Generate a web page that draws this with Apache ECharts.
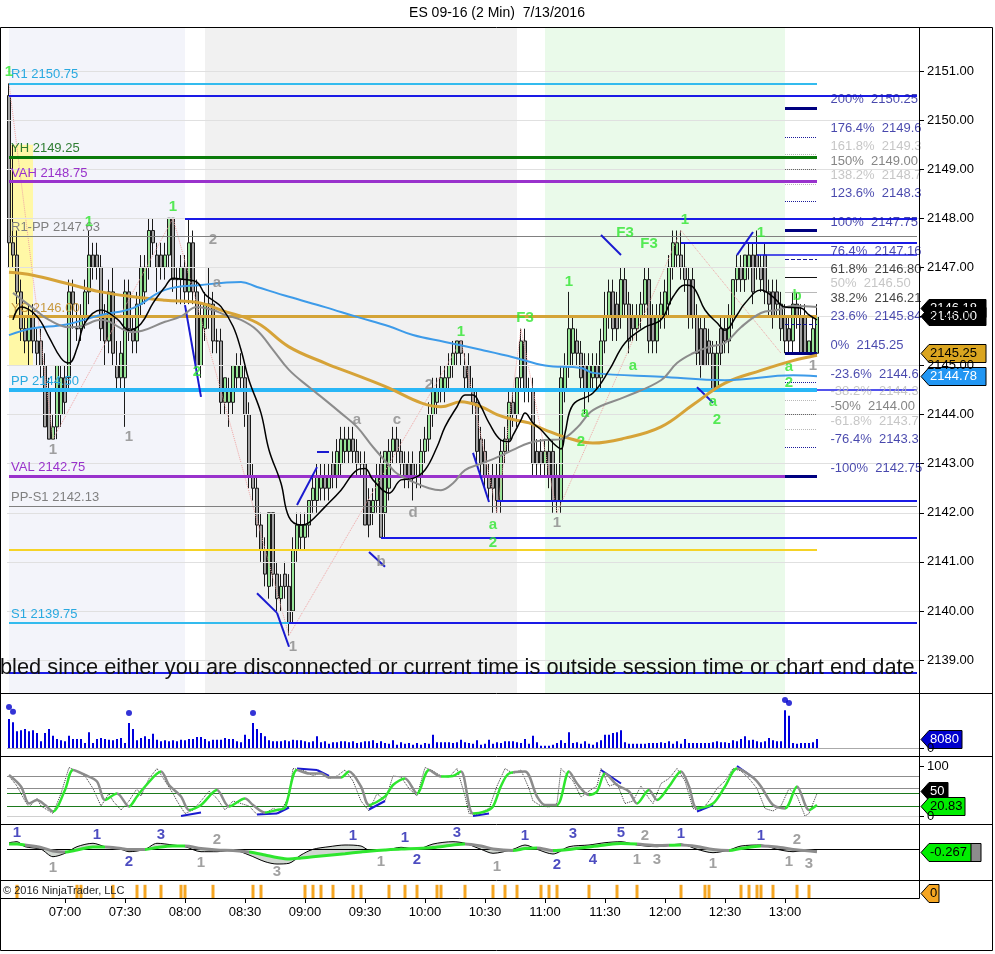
<!DOCTYPE html>
<html><head><meta charset="utf-8"><title>ES 09-16 (2 Min)</title>
<script src="https://cdn.jsdelivr.net/npm/echarts@6.0.0/dist/echarts.min.js"></script>
<style>html,body{margin:0;padding:0;background:#fff;overflow:hidden}#chart{width:995px;height:954px}</style>
</head><body><div id="chart"></div>
<script>
// ================= DATA =================
const chartTitle = 'ES 09-16 (2 Min)  7/13/2016';
const message = 'bled since either you are disconnected or current time is outside session time or chart end date';
const copyright = '\u00A9 2016 NinjaTrader, LLC';
const timeLabels = ['07:00','07:30','08:00','08:30','09:00','09:30','10:00','10:30','11:00','11:30','12:00','12:30','13:00'];
const priceTicks = [2139,2140,2141,2142,2143,2144,2145,2146,2147,2148,2149,2150,2151];

// 2-minute bars, bar 1 = 06:32
const opens = [
2150.5,2147.5,2147.25,2146.5,2145.75,2145.5,2146,2145.5,2145.5,2145,
2144.5,2143.5,2143.75,2144,2144.75,2144.75,2146.5,2145.75,2145.75,2146,
2146.5,2147.25,2147.25,2147,2146,2145.5,2146.5,2145,2144.75,2144.75,
2146.5,2145.75,2145.5,2146.25,2146.5,2147,2147.75,2147.25,2147.25,2147,
2147.25,2148,2146.75,2146.75,2147,2146.5,2147.5,2146.5,2145,2145.75,
2146.25,2146.25,2145.5,2145.5,2144.25,2144.25,2144.25,2144.75,2144.75,2144.75,
2144,2142.75,2142.5,2141.75,2141.25,2140.5,2142,2140.75,2140.25,2140.75,
2140.5,2140,2141.25,2141.5,2141.5,2141.75,2142.25,2142.25,2142.5,2142.75,
2142.5,2143,2142.75,2143,2143.25,2143.25,2143.5,2143.25,2143,2143,
2142.25,2142,2142.25,2143,2142,2142.5,2143.25,2143.5,2143.25,2143,
2143,2143,2142.75,2142.75,2143.25,2143.5,2144,2144.25,2144.5,2144.5,
2144.75,2145,2145.25,2145.5,2145,2145,2144.5,2144.25,2143.5,2143.25,
2142.75,2142.75,2142.75,2142.25,2143.25,2143.5,2144.25,2144,2144.75,2145.5,
2144.5,2144.5,2143.25,2143.25,2143,2143.25,2143.25,2142.75,2142.25,2144.5,
2145,2145.25,2145.5,2145.25,2145,2144.5,2144.75,2145,2144.75,2145.5,
2146,2146.5,2146.25,2146,2146.75,2146.25,2146,2145.75,2146,2146.25,
2146.75,2146,2145.5,2146,2146,2146.25,2147,2147.25,2147.25,2147,
2146.75,2146.75,2146,2145.75,2145.75,2145.5,2145.25,2144.5,2145.75,2145.75,
2145.5,2146,2146.75,2147,2146.75,2147,2147.25,2147.25,2147,2147.25,
2146.5,2146.5,2146.5,2146.25,2146,2145.75,2145.5,2146.25,2146,2146,
2145.25,2145.25,2145.25];
const highs = [
2150.75,2149.5,2147.75,2146.75,2146,2146.25,2146.25,2145.75,2145.75,2145.25,
2144.75,2144,2145,2145,2145,2146.75,2146.75,2146.25,2146.25,2146.75,
2147.75,2147.5,2147.5,2147.25,2146.25,2146.75,2147,2145.5,2145.5,2146.75,
2146.75,2146,2146.5,2147.25,2147.25,2148,2148,2147.5,2147.5,2147.5,
2148,2148,2147,2147.25,2147.25,2148,2147.75,2146.75,2146.25,2146.5,
2147,2146.5,2145.75,2145.75,2144.75,2144.75,2145,2145.25,2145.25,2145,
2144.25,2143,2142.75,2142,2141.5,2142,2142,2141,2140.75,2141,
2140.75,2141.5,2142,2142,2142,2142.25,2142.75,2143,2143,2143,
2143,2143.25,2143.5,2143.75,2143.75,2143.75,2143.75,2143.5,2143.25,2143.25,
2142.5,2142.5,2143,2143.25,2143.25,2143.5,2143.75,2143.75,2143.5,2143.25,
2143.25,2143.25,2143,2143.5,2143.75,2144.25,2144.75,2144.75,2145,2145,
2145.25,2145.5,2145.5,2145.5,2145.25,2145.25,2144.75,2144.5,2143.75,2143.5,
2143,2143,2143,2143.5,2143.75,2144.5,2144.5,2144.75,2145.75,2145.75,
2144.75,2144.75,2143.5,2143.5,2143.5,2143.5,2143.5,2143,2145,2145.25,
2146.5,2146,2145.75,2145.5,2145.25,2145.25,2145.25,2145.25,2145.75,2146.5,
2146.75,2146.75,2146.5,2147,2147,2146.5,2146.25,2146.25,2146.5,2147,
2147,2146.25,2146.25,2146.5,2146.75,2147.25,2147.75,2147.75,2147.75,2147.5,
2147,2147,2146.25,2146,2146,2145.75,2145.5,2145.5,2146,2146,
2146.25,2146.75,2147.25,2147.25,2147.25,2147.5,2147.5,2147.75,2147.25,2147.5,
2146.75,2146.75,2146.75,2146.5,2146.25,2146,2146.5,2146.5,2146.25,2146.25,
2145.5,2146,2146.25];
const lows = [
2147,2147,2146.25,2145.5,2145.25,2145,2145.25,2145,2144.75,2143.75,
2143.5,2143.5,2143.5,2143.75,2144,2144.5,2145.75,2145.5,2145.5,2145.75,
2146.25,2146.75,2146.75,2145.5,2145,2145.25,2145,2144.5,2144.5,2143.75,
2145.5,2145.25,2145.25,2146,2146.25,2146.75,2147.25,2146.5,2146.75,2146.75,
2147,2146.5,2146.25,2146.25,2146.25,2146.25,2146.25,2145,2144.75,2145.5,
2145.75,2145.25,2145.25,2144,2144,2143.75,2144,2144.5,2144.5,2143.75,
2142.5,2142.25,2141.5,2141,2140.5,2140.25,2140.5,2140,2140,2140.25,
2139.5,2139.75,2141,2141.25,2141.25,2141.5,2142,2142,2142.25,2142.25,
2142.25,2142.5,2142.5,2142.75,2143,2143,2143,2142.75,2142.75,2141.75,
2141.5,2141.75,2142,2141.5,2141.5,2142.25,2143,2143,2142.75,2142.5,
2142.5,2142.25,2142.5,2142.5,2143,2143.25,2143.75,2144,2144.25,2144.25,
2144.5,2144.75,2145,2145,2144.5,2144.5,2144,2143,2142.75,2142.5,
2142.25,2142,2142,2142,2143,2143.25,2143.75,2143.75,2144.5,2144.25,
2144.25,2142.75,2142.75,2142.75,2142.75,2142.5,2142,2142,2142,2144.25,
2144.75,2145,2145,2144.5,2144,2144.25,2144.5,2144.5,2144.5,2145.25,
2145.75,2145.5,2145.5,2145.75,2146,2145.25,2145.5,2145.5,2145.75,2146,
2145.25,2145.25,2145.25,2145.75,2145.75,2146,2146.75,2147,2146.75,2146.5,
2145.75,2145.75,2145,2144.75,2145,2145,2144.5,2144.5,2145,2145.25,
2145.25,2145.75,2146.5,2146.5,2146.5,2146.75,2146.25,2146.75,2146.5,2146.25,
2146,2145.75,2146,2145.5,2145.25,2145.25,2145.25,2145.75,2145.25,2145.25,
2145.25,2145.25,2145.25];
const closes = [
2147.5,2147.25,2146.5,2145.75,2145.5,2146,2145.5,2145.25,2145,2143.75,
2143.5,2143.75,2145,2144.75,2144.25,2146.5,2146.25,2145.75,2146,2146.5,
2147.25,2147,2147,2145.75,2145.5,2146.5,2145.25,2144.75,2145.25,2146.5,
2145.75,2145.5,2146.25,2147,2147,2147.75,2147.5,2147,2147,2147.25,
2148,2146.75,2146.75,2147,2146.5,2147.5,2146.5,2145,2146,2146.25,
2146.25,2145.5,2145.5,2144.25,2144.75,2144.5,2145,2145,2145,2144,
2142.75,2142.5,2141.75,2141.25,2140.75,2142,2140.75,2140.25,2140.5,2140.5,
2139.75,2141.25,2141.75,2141.75,2141.75,2142.25,2142.5,2142.75,2142.75,2142.5,
2142.75,2142.75,2143.25,2143.5,2143.5,2143.5,2143.25,2143,2143,2141.75,
2141.75,2142.25,2142.75,2141.5,2143.25,2143.25,2143.5,2143.25,2143,2142.75,
2142.75,2142.75,2142.75,2143.25,2143.5,2144,2144.5,2144.5,2144.75,2144.75,
2145,2145.25,2145.5,2145.25,2144.75,2144.5,2144.25,2143.25,2143,2142.75,
2142.5,2142.5,2142.25,2143.25,2143.5,2144.25,2144,2144.75,2145.5,2144.5,
2144.5,2143,2143,2143,2143.25,2142.75,2142.25,2142.25,2144.75,2145,
2145.75,2145.75,2145.25,2144.75,2144.5,2145,2145,2144.75,2145.5,2146,
2146.5,2145.75,2145.75,2146.75,2146.25,2145.5,2145.75,2146,2146.25,2146.75,
2145.5,2145.5,2146,2146.25,2146.5,2147,2147.5,2147.5,2147,2146.75,
2146,2146,2145.25,2145,2145,2145.25,2144.5,2145.25,2145.25,2145.5,
2146,2146.75,2147,2146.75,2147.25,2147.25,2146.5,2147,2146.75,2146.5,
2146.25,2146,2146.25,2145.75,2145.5,2145.5,2146.25,2146,2145.25,2145.25,
2145.5,2145.75,2146];

const volumes = [
26100,23100,15000,15900,17100,15000,15900,13500,6000,13500,
17100,11100,8100,6900,6000,11100,8100,8100,8100,4500,
14100,4500,8100,9000,8100,7500,6900,8100,9000,4500,
22500,17100,6900,9000,10500,8100,12900,7500,6000,6900,
6000,6900,6000,7500,6900,8100,8100,9900,9900,8100,
6000,7500,7500,7500,9000,8100,8100,6000,5100,12000,
8100,22500,17100,13500,10500,6900,6000,6000,6000,6900,
6000,7500,6900,6900,6000,5100,6000,10500,5100,6000,
3900,5100,5100,6000,6000,5100,6000,4500,5100,6000,
6000,6900,4500,6000,4500,3900,6900,3000,5100,3900,
4500,3000,4500,3000,4500,3900,12000,5100,5100,5100,
5100,4500,5100,7500,5100,4500,3900,6900,3000,3900,
7500,3900,5100,4500,6000,6000,6000,5100,4500,8100,
3900,11100,5100,2100,2100,2100,3000,4500,6900,4500,
14100,4500,5100,3900,6000,3900,3000,5100,6900,12000,
12000,13500,14100,15900,5100,3900,3900,3900,3900,3900,
4500,4500,4500,5100,4500,6000,3900,6000,3900,8100,
4500,4500,4500,4500,4500,4500,5100,6000,5100,5100,
4500,6900,6000,8100,10500,6900,7500,6000,5100,6000,
9000,6900,6000,6000,33900,29100,4500,3900,4500,4500,
4500,5100,8080];
const volDots = [[1,36900],[2,32700],[31,31500],[62,31500],[195,43200],[196,40500]];

// moving averages: [bar, price]
const blueMA = [[1,2145.62],[7,2145.76],[15,2145.83],[24,2146.03],[32,2146.17],[40,2146.54],[49,2146.64],[59,2146.7],[63,2146.6],[71,2146.4],[80,2146.19],[88,2145.99],[96,2145.8],[102,2145.62],[110,2145.48],[119,2145.32],[127,2145.17],[135,2145.0],[144,2144.95],[147,2144.85],[164,2144.77],[180,2144.7],[197,2144.8],[203,2144.78]];
const goldMA = [[1,2146.9],[7,2146.84],[15,2146.68],[24,2146.5],[32,2146.4],[40,2146.33],[49,2146.27],[54,2146.13],[63,2145.87],[71,2145.38],[80,2145.05],[88,2144.8],[96,2144.54],[104,2144.24],[109,2144.16],[114,2144.26],[119,2144.16],[123,2144.0],[127,2143.9],[131,2143.83],[135,2143.69],[140,2143.54],[147,2143.42],[155,2143.52],[164,2143.75],[172,2144.2],[180,2144.64],[189,2144.9],[197,2145.1],[203,2145.21]];
const blackMA = [[2,2145.93],[4,2146.19],[8,2146.0],[11,2145.58],[14,2145.15],[16,2145.05],[18,2145.35],[20,2145.87],[24,2146.13],[28,2145.95],[31,2145.72],[34,2145.85],[37,2146.27],[40,2146.6],[42,2146.78],[45,2146.75],[48,2146.7],[50,2146.45],[52,2146.33],[54,2146.2],[57,2145.8],[59,2145.32],[61,2144.7],[64,2144.03],[66,2143.28],[69,2142.6],[71,2141.91],[74,2141.75],[76,2141.8],[80,2142.12],[84,2142.46],[88,2142.87],[90,2142.9],[92,2142.67],[96,2142.4],[99,2142.67],[102,2142.7],[105,2142.87],[108,2143.34],[110,2143.75],[113,2144.16],[115,2144.4],[117,2144.4],[119,2144.16],[121,2143.83],[124,2143.48],[126,2143.45],[127,2143.58],[129,2143.89],[130,2144.03],[132,2143.83],[134,2143.69],[137,2143.42],[139,2143.3],[140,2143.62],[142,2144.2],[147,2144.44],[151,2144.9],[155,2145.46],[160,2145.78],[164,2145.93],[167,2146.4],[170,2146.64],[172,2146.6],[175,2146.13],[178,2145.87],[180,2145.72],[183,2146.03],[185,2146.27],[189,2146.54],[192,2146.4],[195,2146.19],[199,2146.17],[201,2146.03],[203,2145.93]];
const medMA = [[2,2146.48],[7,2146.17],[11,2145.93],[16,2145.78],[19,2145.8],[24,2145.93],[32,2145.68],[40,2145.89],[44,2146.0],[48,2146.19],[52,2146.13],[55,2146.03],[59,2145.93],[63,2145.72],[67,2145.32],[71,2144.91],[76,2144.56],[80,2144.3],[84,2144.03],[88,2143.75],[92,2143.34],[96,2142.97],[98,2142.8],[102,2142.63],[106,2142.5],[109,2142.46],[112,2142.6],[115,2142.87],[119,2143.0],[123,2143.13],[127,2143.28],[131,2143.42],[135,2143.48],[139,2143.5],[143,2143.73],[147,2144.09],[155,2144.36],[164,2144.7],[168,2145.05],[172,2145.25],[176,2145.38],[180,2145.46],[184,2145.78],[189,2146.07],[193,2146.13],[197,2146.21],[203,2146.19]];
const medGreen = [[19,26],[33,50],[109,198]];
const zigzag = [[1,2150.75],[12,2143.5],[42,2148.0],[71,2139.5],[114,2145.5],[123,2142.0],[129,2145.75],[138,2142.0],[169,2147.75],[194,2145.25]];

// horizontal levels: price, text, line colour, width, from bar, to bar, label colour
const levels = [
 [2150.75,'R1 2150.75','#33bbee',2,1,203,'#29a9e0'],
 [2150.5,'','#1a1ae6',2,1,228,null],
 [2149.25,'YH 2149.25','#0a7a0a',3,1,203,'#2e7d32'],
 [2148.75,'VAH 2148.75','#9932cc',3,1,203,'#9932cc'],
 [2148.0,'','#1a1ae6',2,45,228,null],
 [2147.63,'R1-PP 2147.63','#808080',1,1,228,'#808080'],
 [2147.5,'','#1a1ae6',2,169,228,null],
 [2147.25,'','#1a1ae6',1.5,188,228,null],
 [2146.0,'YC 2146.00','#d4a437',3,1,203,'#c89a40'],
 [2144.5,'PP 2144.50','#29b6f6',4,1,203,'#29a9e0'],
 [2144.5,'','#1a1ae6',1.5,203,228,null],
 [2142.75,'VAL 2142.75','#9932cc',3,1,203,'#9932cc'],
 [2142.25,'','#1a1ae6',2,123,228,null],
 [2142.13,'PP-S1 2142.13','#808080',1,1,228,'#808080'],
 [2141.5,'','#1a1ae6',2,94,228,null],
 [2141.25,'','#f5d327',2,1,203,null],
 [2139.75,'S1 2139.75','#33bbee',2,1,71,'#29a9e0'],
 [2139.75,'','#1a1ae6',2,71,228,null],
 [2138.75,'','#1a1ae6',2,1,228,null]
];
// fibonacci levels: text, price, colour, marker style
const fibs = [
 ['200%  2150.25',2150.25,'#1a1a99','thick'],
 ['176.4%  2149.6',2149.66,'#1a1a99','dot'],
 ['161.8%  2149.3',2149.3,'#b8b8b8','dot'],
 ['150%  2149.00',2149.0,'#666666','dot'],
 ['138.2%  2148.7',2148.7,'#b8b8b8','dot'],
 ['123.6%  2148.3',2148.34,'#1a1a99','dot'],
 ['100%  2147.75',2147.75,'#1a1a99','thick'],
 ['76.4%  2147.16',2147.16,'#1a1a99','dash'],
 ['61.8%  2146.80',2146.8,'#111111','solid'],
 ['50%  2146.50',2146.5,'#b8b8b8','solid'],
 ['38.2%  2146.21',2146.21,'#111111','none'],
 ['23.6%  2145.84',2145.84,'#1a1a99','dash'],
 ['0%  2145.25',2145.25,'#1a1a99','thick'],
 ['-23.6%  2144.6',2144.66,'#1a1a99','dot'],
 ['-38.2%  2144.3',2144.3,'#b8b8b8','dot'],
 ['-50%  2144.00',2144.0,'#666666','dot'],
 ['-61.8%  2143.7',2143.7,'#b8b8b8','dot'],
 ['-76.4%  2143.3',2143.34,'#1a1a99','dot'],
 ['-100%  2142.75',2142.75,'#1a1a99','thick']
];
const shades = [[1,45,'#f3f4fa'],[50,128,'#f1f1f1'],[135,195,'#eafaea']];
const trendLines = [[[45,2146.23],[49,2144.36]],[[63,2140.36],[68,2139.96]],[[68,2139.96],[71,2139.27]],[[73,2142.16],[78,2142.93]],[[78,2143.24],[81,2143.24]],[[91,2141.2],[95,2140.9]],[[117,2143.22],[121,2142.22]],[[149,2147.66],[154,2147.25]],[[173,2144.56],[177,2144.24]],[[183,2147.25],[187,2147.72]]];
const notes = [[1,2150.98,'1','g'],[21,2147.92,'1','g'],[12,2143.28,'1','k'],[31,2143.54,'1','k'],[42,2148.23,'1','g'],[52,2147.56,'2','k'],[53,2146.68,'a','k'],[48,2144.87,'2','g'],[88,2143.89,'a','k'],[98,2143.89,'c','k'],[102,2142.0,'d','k'],[94,2141.0,'b','k'],[72,2139.27,'1','k'],[106,2144.6,'2','k'],[114,2145.68,'1','g'],[130,2145.97,'F3','g'],[122,2141.75,'a','g'],[122,2141.38,'2','g'],[138,2141.79,'1','k'],[141,2146.7,'1','g'],[144,2143.44,'2','g'],[145,2144.03,'a','g'],[157,2145.0,'a','g'],[155,2147.7,'F3','g'],[161,2147.48,'F3','g'],[170,2147.96,'1','g'],[177,2144.25,'a','g'],[178,2143.9,'2','g'],[189,2147.7,'1','g'],[198,2146.42,'b','g'],[196,2144.97,'a','g'],[196,2144.64,'2','g'],[202,2145.0,'1','k']];

// stochastics
const stochSlow = [[1,82],[4,59],[6,25],[8,32],[10,22],[12,9],[15,52],[17,92],[20,82],[23,69],[25,32],[28,45],[31,19],[33,39],[35,59],[39,89],[41,62],[44,39],[46,12],[49,22],[53,52],[56,19],[60,35],[62,22],[65,7],[68,12],[70,17],[73,92],[76,85],[79,85],[81,77],[84,77],[86,89],[89,59],[91,22],[95,39],[97,62],[100,75],[103,45],[106,92],[109,79],[112,80],[114,89],[117,5],[120,9],[122,19],[124,60],[126,85],[130,89],[133,39],[135,22],[138,22],[141,89],[143,65],[146,42],[148,49],[150,85],[153,62],[156,49],[158,25],[161,52],[163,32],[166,59],[169,89],[171,59],[173,15],[177,25],[180,59],[183,95],[187,77],[189,59],[192,22],[195,15],[198,59],[201,12],[203,22]];
const stochFast = [[1,80],[3,60],[5,30],[6,18],[8,35],[9,20],[11,10],[12,5],[14,45],[16,97],[18,90],[20,80],[22,55],[24,20],[26,45],[27,30],[29,12],[31,30],[33,55],[34,40],[36,75],[38,95],[40,70],[42,45],[43,30],[45,5],[47,12],[49,30],[51,50],[53,35],[55,12],[57,30],[59,25],[61,20],[63,3],[65,5],[67,15],[69,10],[71,40],[72,95],[75,90],[77,80],[79,88],[81,75],[83,80],[85,92],[87,70],[89,30],[91,10],[93,45],[95,30],[97,80],[99,78],[101,55],[103,40],[105,97],[107,90],[109,80],[111,78],[113,95],[115,40],[116,5],[118,3],[121,15],[123,60],[125,95],[127,85],[129,92],[131,55],[132,30],[134,20],[136,18],[138,25],[139,95],[142,70],[144,38],[146,50],[148,60],[149,95],[151,60],[153,65],[155,25],[157,30],[159,60],[161,35],[162,25],[164,65],[166,75],[168,95],[170,70],[172,15],[174,10],[176,30],[178,55],[180,70],[182,95],[184,90],[186,75],[188,55],[190,15],[192,10],[194,20],[196,55],[198,40],[200,0],[201,5],[203,45]];
const stochGreen = [[12,17],[25,28],[31,39],[46,53],[56,60],[65,73],[84,86],[91,100],[103,106],[109,114],[117,127],[138,141],[146,150],[158,161],[163,169],[173,183],[195,198],[201,203]];
const stochLevels = [[80,'#8c8c8c'],[55,'#8c8c8c'],[45,'#1d7a1d'],[20,'#1d7a1d'],[0,'#d0d0d0']];
const stochLines = [[[44,0],[49,7]],[[63,3],[68,5]],[[68,5],[71,17]],[[73,95],[78,92]],[[78,92],[81,80]],[[91,13],[95,30]],[[117,0],[121,5]],[[149,92],[154,65]],[[173,9],[177,22]],[[183,100],[187,77]]];

// MACD
const macdBars = [1,3,5,9,12,15,18,22,25,29,31,35,38,42,45,49,53,57,61,65,68,71,74,77,81,85,89,91,95,99,103,107,112,115,119,122,127,130,133,137,141,146,150,154,158,163,169,173,177,181,184,189,193,197,200,203];
const macdVals = [0.63,0.73,0.23,-0.03,-0.77,-0.43,0.23,0.57,0.23,-0.03,-0.27,-0.03,0.57,0.4,0.23,-0.27,-0.27,-0.1,-0.6,-1.27,-1.5,-1.43,-0.6,-0.03,0.23,0.4,0.3,-0.1,-0.1,0.17,-0.03,0.5,0.73,0.57,-0.03,-0.43,-0.03,0.4,-0.03,-0.5,0.23,0.4,0.63,0.73,0.4,0.23,0.5,-0.03,-0.37,-0.1,0.3,0.4,-0.03,-0.27,-0.17,-0.2];
const sigVals = [0.5,0.5,0.4,0.15,-0.2,-0.3,-0.1,0.2,0.2,0.05,-0.05,-0.05,0.15,0.3,0.3,0.05,-0.1,-0.15,-0.3,-0.6,-0.85,-1.0,-0.9,-0.78,-0.62,-0.47,-0.3,-0.22,-0.1,0.0,0.05,0.15,0.4,0.5,0.3,0.0,-0.15,0.05,0.1,-0.15,-0.05,0.2,0.4,0.55,0.5,0.35,0.4,0.25,-0.05,-0.15,0.05,0.3,0.2,-0.05,-0.15,-0.27];
const sigGreen = [[1,5],[15,25],[35,45],[61,115],[127,133],[137,158],[166,169],[181,189]];
const macdNotes = [[3,1.6,'1','b'],[12,-1.9,'1','k'],[23,1.4,'1','b'],[31,-1.3,'2','b'],[39,1.4,'3','b'],[49,-1.4,'1','k'],[53,0.9,'2','k'],[68,-2.3,'3','k'],[87,1.3,'1','b'],[94,-1.3,'1','k'],[100,1.1,'1','b'],[103,-1.1,'2','b'],[113,1.6,'3','b'],[123,-1.8,'1','k'],[130,1.3,'1','b'],[138,-1.6,'2','b'],[142,1.5,'3','b'],[147,-1.1,'4','b'],[154,1.6,'5','b'],[160,1.3,'2','k'],[158,-1.1,'1','k'],[163,-1.1,'3','k'],[169,1.5,'1','b'],[177,-1.5,'1','k'],[189,1.3,'1','b'],[198,0.9,'2','k'],[196,-1.3,'1','k'],[201,-1.5,'3','k']];

// signal ticks (orange)
const orangeBars = [3,18,19,27,33,35,39,44,45,52,62,64,75,77,79,82,87,89,96,100,103,108,109,115,122,125,128,134,136,138,146,153,158,169,175,176,184,186,188,189,192,198,201];

// right-hand value tags: value, text, background, text colour, width
const mainTags = [[2146.18,'2146.18','#000000','#ffffff',57],[2146.00,'2146.00','#000000','#ffffff',57],[2145.25,'2145.25','#daa520','#000000',57],[2144.78,'2144.78','#2196f3','#ffffff',57]];
const volTags = [[8080,'8080','#0000cc','#ffffff',33]];
const stochTags = [[50,'50','#000000','#ffffff',19],[20.83,'20.83','#00ee00','#000000',36]];
const macdTags = [[-0.267,'-0.267','#00ee00','#000000',42]];
const orangeTags = [[0.42,'0','#f5a623','#000000',10]];

// ================= BUILD =================
const FONT = '"Liberation Sans", Arial, sans-serif';
const cats = [];
for (let m = 392; m <= 392 + 2 * 227; m += 2) cats.push(String(Math.floor(m / 60)).padStart(2, '0') + ':' + String(m % 60).padStart(2, '0'));
const X = i => i - 1;
const P = a => a.map(p => [X(p[0]), p[1]]);
const noteColors = { g: '#2ee62e', k: '#8a8a8a', b: '#1f1fb0' };

const S = [];
const add = o => { S.push(Object.assign({ silent: true, animation: false }, o)); return S.length - 1; };
const ax = g => ({ xAxisIndex: g, yAxisIndex: g });

// background shading + grid lines
add(Object.assign(ax(0), { type: 'line', data: [], z: 1,
  markArea: { silent: true, data: shades.map(s => [{ xAxis: X(s[0]), itemStyle: { color: s[2] } }, { xAxis: X(s[1]) }])
      .concat([[{ coord: [X(1), 2149.5], itemStyle: { color: '#fff8a6' } }, { coord: [X(7), 2145.0] }]]) },
  markLine: { silent: true, symbol: ['none', 'none'], label: { show: false },
    data: priceTicks.map(t => ({ yAxis: t, lineStyle: { color: '#e0e0e0', width: 1, type: 'solid' } })) }
}));
// candles
add(Object.assign(ax(0), { type: 'candlestick', z: 3, barWidth: 4,
  data: opens.map((o, k) => [o, closes[k], lows[k], highs[k]]),
  itemStyle: { color: '#98e598', color0: '#a3a3a3', borderColor: '#1a1a1a', borderColor0: '#1a1a1a', borderWidth: 1 } }));
// levels
add(Object.assign(ax(0), { type: 'line', data: [], z: 4,
  markLine: { silent: true, symbol: ['none', 'none'],
    data: levels.map(L => [
      { coord: [X(L[4]), L[0]], lineStyle: { color: L[2], width: L[3], type: 'solid' },
        label: L[1] ? { show: true, position: 'insideStartTop', formatter: L[1], color: L[6], fontSize: 13, fontFamily: FONT, distance: 2 } : { show: false } },
      { coord: [X(L[5]), L[0]] }]) } }));
// fib marker segments
const fibStyle = f => f[3] === 'thick' ? { color: '#000080', width: 3, type: 'solid' }
  : f[3] === 'dot' ? { color: f[2], width: 1, type: 'dotted' }
  : f[3] === 'dash' ? { color: f[2], width: 1, type: 'dashed' } : { color: f[2], width: 1, type: 'solid' };
add(Object.assign(ax(0), { type: 'line', data: [], z: 4,
  markLine: { silent: true, symbol: ['none', 'none'], label: { show: false },
    data: fibs.filter(f => f[3] !== 'none').map(f => [{ coord: [X(195), f[1]], lineStyle: fibStyle(f) }, { coord: [X(203), f[1]] }]) } }));
// zigzag
add(Object.assign(ax(0), { type: 'line', data: P(zigzag), symbol: 'none', z: 4, lineStyle: { color: '#f0a4a4', width: 1, type: 'dotted' } }));
// moving averages
const ma = (d, color, width) => add(Object.assign(ax(0), { type: 'line', data: P(d), smooth: 0.4, symbol: 'none', z: 5, lineStyle: { color: color, width: width }, itemStyle: { color: color } }));
ma(goldMA, '#d6a338', 3);
ma(blueMA, '#3d9be9', 2);
const medIdx = ma(medMA, '#8c8c8c', 2);
ma(blackMA, '#000000', 1.5);
// trend lines
add(Object.assign(ax(0), { type: 'line', data: [], z: 6,
  markLine: { silent: true, symbol: ['none', 'none'], label: { show: false }, lineStyle: { color: '#1a1ad0', width: 2, type: 'solid' },
    data: trendLines.map(t => [{ coord: [X(t[0][0]), t[0][1]] }, { coord: [X(t[1][0]), t[1][1]] }]) } }));
// annotations
add(Object.assign(ax(0), { type: 'scatter', z: 7, symbolSize: 1, itemStyle: { color: 'rgba(0,0,0,0)' },
  data: notes.map(n => ({ name: n[2], value: [X(n[0]), n[1]], label: { color: noteColors[n[3]] } })),
  label: { show: true, position: 'inside', formatter: '{b}', fontSize: 15, fontWeight: 'bold', fontFamily: FONT } }));
// fib labels
add(Object.assign(ax(0), { type: 'scatter', z: 7, symbolSize: 1, itemStyle: { color: 'rgba(0,0,0,0)' },
  data: fibs.map(f => ({ name: f[0], value: [X(206), f[1]], label: { color: f[2] } })),
  label: { show: true, position: 'right', distance: 1, offset: [0, -8], formatter: '{b}', fontSize: 13, fontFamily: FONT } }));

// volume
add(Object.assign(ax(1), { type: 'bar', data: volumes, barWidth: 2, z: 3, itemStyle: { color: '#0000dd' },
  markLine: { silent: true, symbol: ['none', 'none'], label: { show: false }, data: [{ yAxis: 0, lineStyle: { color: '#aaaaaa', width: 1, type: 'solid' } }] } }));
add(Object.assign(ax(1), { type: 'scatter', data: P(volDots), symbolSize: 6, z: 4, itemStyle: { color: '#0000cc' } }));

// stochastics
add(Object.assign(ax(2), { type: 'line', data: [], z: 2,
  markLine: { silent: true, symbol: ['none', 'none'], label: { show: false },
    data: stochLevels.map(l => ({ yAxis: l[0], lineStyle: { color: l[1], width: 1, type: 'solid' } })) } }));
add(Object.assign(ax(2), { type: 'line', data: P(stochFast), symbol: 'none', z: 4, lineStyle: { color: '#333333', width: 1, type: 'dotted' } }));
const stIdx = add(Object.assign(ax(2), { type: 'line', data: P(stochSlow), smooth: 0.3, symbol: 'none', z: 5, lineStyle: { width: 2.5 } }));
add(Object.assign(ax(2), { type: 'line', data: [], z: 6,
  markLine: { silent: true, symbol: ['none', 'none'], label: { show: false }, lineStyle: { color: '#1a1ad0', width: 2, type: 'solid' },
    data: stochLines.map(t => [{ coord: [X(t[0][0]), t[0][1]] }, { coord: [X(t[1][0]), t[1][1]] }]) } }));

// MACD
add(Object.assign(ax(3), { type: 'line', data: [], z: 2,
  markLine: { silent: true, symbol: ['none', 'none'], label: { show: false }, data: [{ yAxis: 0, lineStyle: { color: '#000', width: 1, type: 'solid' } }] } }));
add(Object.assign(ax(3), { type: 'line', stack: 'h', stackStrategy: 'all', smooth: 0.3, symbol: 'none', z: 3, lineStyle: { opacity: 0 },
  data: macdBars.map((i, n) => [X(i), Math.min(macdVals[n], sigVals[n])]) }));
add(Object.assign(ax(3), { type: 'line', stack: 'h', stackStrategy: 'all', smooth: 0.3, symbol: 'none', z: 3, lineStyle: { opacity: 0 },
  areaStyle: { color: 'rgba(110,130,110,0.45)' },
  data: macdBars.map((i, n) => [X(i), Math.abs(macdVals[n] - sigVals[n])]) }));
add(Object.assign(ax(3), { type: 'line', smooth: 0.3, symbol: 'none', z: 4, lineStyle: { color: '#000', width: 1 },
  data: macdBars.map((i, n) => [X(i), macdVals[n]]) }));
const sigIdx = add(Object.assign(ax(3), { type: 'line', smooth: 0.3, symbol: 'none', z: 5, lineStyle: { width: 3 },
  data: macdBars.map((i, n) => [X(i), sigVals[n]]) }));
add(Object.assign(ax(3), { type: 'scatter', z: 7, symbolSize: 1, itemStyle: { color: 'rgba(0,0,0,0)' },
  data: macdNotes.map(n => ({ name: n[2], value: [X(n[0]), n[1]], label: { color: noteColors[n[3]] } })),
  label: { show: true, position: 'inside', formatter: '{b}', fontSize: 15, fontWeight: 'bold', fontFamily: FONT } }));

// orange markers
add(Object.assign(ax(4), { type: 'bar', barWidth: 3, z: 3, itemStyle: { color: '#f5a623' }, data: orangeBars.map(i => [X(i), 1.1]) }));

const vpieces = (ranges, color) => ranges.map(r => ({ gte: X(r[0]), lte: X(r[1]), color: color }));
const gridBase = { left: 7, right: 76 };
const showTime = (i, v) => timeLabels.indexOf(v) >= 0;

const yBase = (g, min, max, ticks) => ({
  type: 'value', gridIndex: g, position: 'right', min: min, max: max,
  axisLine: { show: false }, splitLine: { show: false },
  axisTick: { show: ticks.length > 0, customValues: ticks, length: 5, lineStyle: { color: '#000' } },
  axisLabel: { show: ticks.length > 0, customValues: ticks, color: '#000', fontSize: 13, fontFamily: FONT, margin: 8,
    formatter: g === 0 ? (v => v.toFixed(2)) : (v => String(v)) }
});

const option = {
  animation: false,
  backgroundColor: '#ffffff',
  grid: [
    Object.assign({ top: 28, height: 665 }, gridBase),
    Object.assign({ top: 693, height: 63 }, gridBase),
    Object.assign({ top: 756, height: 68 }, gridBase),
    Object.assign({ top: 824, height: 56 }, gridBase),
    Object.assign({ top: 880, height: 18 }, gridBase)
  ],
  xAxis: [0, 1, 2, 3, 4].map(g => ({
    type: 'category', gridIndex: g, data: cats, boundaryGap: true, show: g === 4,
    axisLine: { show: false }, splitLine: { show: false },
    axisTick: { show: g === 4, interval: showTime, alignWithLabel: true, length: 5, lineStyle: { color: '#000' } },
    axisLabel: { show: g === 4, interval: showTime, color: '#000', fontSize: 13, fontFamily: FONT, margin: 8 }
  })),
  yAxis: [
    yBase(0, 2138.328, 2151.876, priceTicks),
    yBase(1, -7200, 49500, [0]),
    yBase(2, -16, 120, [0, 100]),
    yBase(3, -3.1, 2.5, []),
    yBase(4, 0, 1.5, [])
  ],
  visualMap: [
    { type: 'piecewise', show: false, seriesIndex: medIdx, dimension: 0, pieces: vpieces(medGreen, '#2ee62e'), outOfRange: { color: '#8c8c8c' } },
    { type: 'piecewise', show: false, seriesIndex: stIdx, dimension: 0, pieces: vpieces(stochGreen, '#2ee62e'), outOfRange: { color: '#8c8c8c' } },
    { type: 'piecewise', show: false, seriesIndex: sigIdx, dimension: 0, pieces: vpieces(sigGreen, '#2ee62e'), outOfRange: { color: '#8c8c8c' } }
  ],
  series: S
};

const chart = echarts.init(document.getElementById('chart'), null, { renderer: 'canvas' });
chart.setOption(option);

// ---- frame, texts and value tags ----
const tagEl = (axisIdx, t, dx) => {
  const y = Math.round(chart.convertToPixel({ yAxisIndex: axisIdx }, t[0])) + 0.5;
  const x0 = 921 + (dx || 0), w = t[4];
  return { type: 'group', z: 100, silent: true, children: [
    { type: 'polygon', shape: { points: [[x0, y], [x0 + 8, y - 9], [x0 + 8 + w, y - 9], [x0 + 8 + w, y + 9], [x0 + 8, y + 9]] },
      style: { fill: t[2], stroke: '#000', lineWidth: 1 } },
    { type: 'text', x: x0 + 9, y: y, style: { text: t[1], fill: t[3], font: '13px ' + FONT, verticalAlign: 'middle', textVerticalAlign: 'middle' } }
  ] };
};
const hline = (y, x2) => ({ type: 'line', z: 90, silent: true, shape: { x1: 0, y1: y, x2: x2, y2: y }, style: { stroke: '#000', lineWidth: 1 } });
const graphics = [
  { type: 'rect', z: 90, silent: true, shape: { x: 0.5, y: 27.5, width: 992, height: 923 }, style: { fill: 'none', stroke: '#000', lineWidth: 1 } },
  hline(693.5, 993), hline(756.5, 993), hline(824.5, 993), hline(880.5, 993), hline(898.5, 919.5),
  { type: 'line', z: 90, silent: true, shape: { x1: 919.5, y1: 27, x2: 919.5, y2: 898.5 }, style: { stroke: '#000', lineWidth: 1 } },
  { type: 'text', z: 90, silent: true, x: 497, y: 13, style: { text: chartTitle, font: '14px ' + FONT, fill: '#000', align: 'center', textAlign: 'center', verticalAlign: 'middle', textVerticalAlign: 'middle' } },
  { type: 'text', z: 60, silent: true, x: 0, y: 668, style: { text: message, font: '21.8px ' + FONT, fill: '#111', verticalAlign: 'middle', textVerticalAlign: 'middle' } },
  { type: 'text', z: 95, silent: true, x: 3, y: 891, style: { text: copyright, font: '11px ' + FONT, fill: '#222', verticalAlign: 'middle', textVerticalAlign: 'middle' } }
];
mainTags.forEach(t => graphics.push(tagEl(0, t)));
volTags.forEach(t => graphics.push(tagEl(1, t)));
stochTags.forEach(t => graphics.push(tagEl(2, t)));
graphics.push(tagEl(3, [macdTags[0][0], '0', '#8c8c8c', '#000', 42], 10));
macdTags.forEach(t => graphics.push(tagEl(3, t)));
orangeTags.forEach(t => graphics.push(tagEl(4, t)));
chart.setOption({ graphic: graphics });
</script>
</body></html>
